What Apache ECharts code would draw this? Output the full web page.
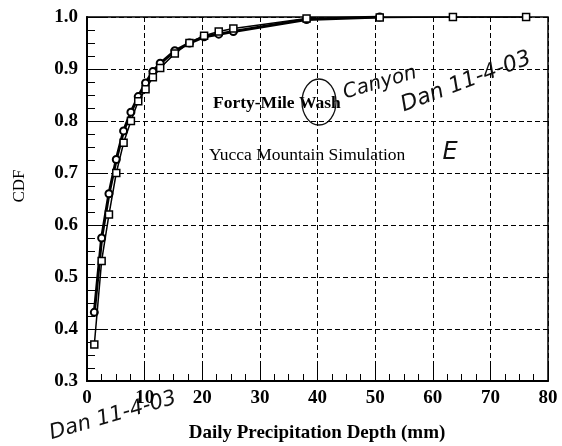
<!DOCTYPE html>
<html>
<head>
<meta charset="utf-8">
<script src="https://cdn.jsdelivr.net/npm/echarts@6/dist/echarts.min.js"></script>
<style>
  html, body { margin: 0; padding: 0; background: #fff; }
  #chart { width: 562px; height: 446px; }
</style>
</head>
<body>
<div id="chart"></div>
<script>
// Daily precipitation depths (mm), 0.05-inch bins
const depthMm = [1.27, 2.54, 3.81, 5.08, 6.35, 7.62, 8.89, 10.16, 11.43, 12.7,
                 15.24, 17.78, 20.32, 22.86, 25.4, 38.1, 50.8, 63.5, 76.2];

// Observed CDF, Forty-Mile Wash
const fortyMileCdf = [0.432, 0.575, 0.660, 0.726, 0.781, 0.817, 0.847, 0.873, 0.895, 0.911,
                      0.935, 0.950, 0.962, 0.967, 0.972, 0.995, 1.000];

// Simulated CDF, Yucca Mountain
const yuccaSimCdf = [0.370, 0.531, 0.620, 0.700, 0.758, 0.800, 0.838, 0.861, 0.884, 0.902,
                     0.930, 0.950, 0.964, 0.972, 0.978, 0.997, 0.999, 1.000, 1.000];

const seriesNames = ['Forty-Mile Wash', 'Yucca Mountain Simulation'];
const xTicks = [0, 10, 20, 30, 40, 50, 60, 70, 80];
const yTicks = [0.3, 0.4, 0.5, 0.6, 0.7, 0.8, 0.9, 1.0];

const pairs = (xs, ys) => ys.map((y, i) => [xs[i], y]);

const serif = '"Liberation Serif", "DejaVu Serif", serif';
const hand = '"DejaVu Sans", sans-serif';

const chart = echarts.init(document.getElementById('chart'), null, { renderer: 'canvas' });

const dashed = { show: true, lineStyle: { color: '#000', width: 1, type: [5, 3] } };

chart.setOption({
  animation: false,
  backgroundColor: '#fff',
  grid: {
    left: 87, right: 14, top: 17, bottom: 65,
    show: true, borderColor: '#000', borderWidth: 1.5, backgroundColor: 'transparent'
  },
  xAxis: {
    type: 'value',
    min: xTicks[0], max: xTicks[xTicks.length - 1], interval: 10,
    axisLine: { show: true, onZero: false, lineStyle: { color: '#000', width: 2 } },
    axisTick: { show: true, inside: true, length: 16, lineStyle: { color: '#000', width: 1 } },
    minorTick: { show: true, splitNumber: 4, length: 7, lineStyle: { color: '#000', width: 1 } },
    splitLine: dashed,
    axisLabel: {
      color: '#000', fontFamily: serif, fontWeight: 'bold', fontSize: 19, margin: 8
    }
  },
  yAxis: {
    type: 'value',
    min: yTicks[0], max: yTicks[yTicks.length - 1], interval: 0.1,
    axisLine: { show: true, onZero: false, lineStyle: { color: '#000', width: 2 } },
    axisTick: { show: true, inside: true, length: 16, lineStyle: { color: '#000', width: 1 } },
    minorTick: { show: true, splitNumber: 4, length: 8, lineStyle: { color: '#000', width: 1 } },
    splitLine: dashed,
    axisLabel: {
      color: '#000', fontFamily: serif, fontWeight: 'bold', fontSize: 19, margin: 9,
      formatter: v => v.toFixed(1)
    }
  },
  series: [
    {
      name: seriesNames[0],
      type: 'line',
      data: pairs(depthMm, fortyMileCdf),
      symbol: 'circle',
      symbolSize: 7,
      lineStyle: { color: '#000', width: 3 },
      itemStyle: { color: '#fff', borderColor: '#000', borderWidth: 2 },
      z: 3
    },
    {
      name: seriesNames[1],
      type: 'line',
      data: pairs(depthMm, yuccaSimCdf),
      symbol: 'rect',
      symbolSize: 7,
      lineStyle: { color: '#000', width: 1.5 },
      itemStyle: { color: '#fff', borderColor: '#000', borderWidth: 1.5 },
      z: 4
    }
  ],
  graphic: [
    // axis titles
    {
      type: 'text', x: 20, y: 186, rotation: Math.PI / 2,
      style: { text: 'CDF', fontFamily: serif, fontSize: 17, fill: '#000', align: 'center', verticalAlign: 'middle' }
    },
    {
      type: 'text', x: 317, y: 433,
      style: { text: 'Daily Precipitation Depth (mm)', fontFamily: serif, fontWeight: 'bold', fontSize: 19, fill: '#000', align: 'center', verticalAlign: 'middle' }
    },
    // series labels
    {
      type: 'text', x: 213, y: 103,
      style: { text: seriesNames[0], fontFamily: serif, fontWeight: 'bold', fontSize: 17.5, fill: '#000', align: 'left', verticalAlign: 'middle' }
    },
    {
      type: 'text', x: 209, y: 155,
      style: { text: seriesNames[1], fontFamily: serif, fontSize: 17.5, fill: '#000', align: 'left', verticalAlign: 'middle' }
    },
    // pen notes
    {
      type: 'ellipse', shape: { cx: 319, cy: 102, rx: 17, ry: 23 },
      style: { fill: 'none', stroke: '#111', lineWidth: 1.3 }
    },
    {
      type: 'text', x: 380, y: 83, rotation: 0.28,
      style: { text: 'Canyon', fontFamily: hand, fontStyle: 'italic', fontSize: 20, fill: '#111', align: 'center', verticalAlign: 'middle' }
    },
    {
      type: 'text', x: 466, y: 82, rotation: 0.36,
      style: { text: 'Dan 11-4-03', fontFamily: hand, fontStyle: 'italic', fontSize: 22, fill: '#111', align: 'center', verticalAlign: 'middle' }
    },
    {
      type: 'text', x: 450, y: 153,
      style: { text: 'E', fontFamily: hand, fontStyle: 'italic', fontSize: 24, fill: '#111', align: 'center', verticalAlign: 'middle' }
    },
    {
      type: 'text', x: 113, y: 416, rotation: 0.28,
      style: { text: 'Dan 11-4-03', fontFamily: hand, fontStyle: 'italic', fontSize: 21, fill: '#111', align: 'center', verticalAlign: 'middle' }
    }
  ]
});
</script>
</body>
</html>
